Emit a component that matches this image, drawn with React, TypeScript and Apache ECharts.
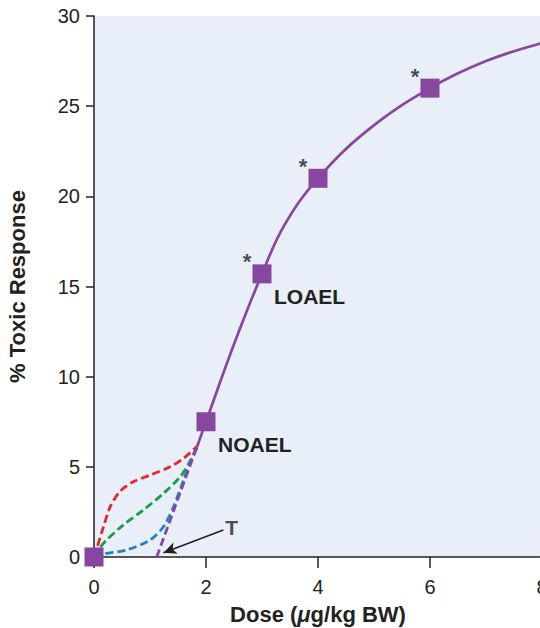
import React, { useEffect, useRef } from "react";
import * as echarts from "echarts";

// Main dose-response curve (solid)
const mainCurve: [number, number][] = [
  [1.85, 6.2], [2, 7.5], [2.5, 11.8], [3, 15.7], [3.4, 18.4], [4, 21],
  [4.9, 23.7], [6, 26], [7, 27.5], [8, 28.5],
];
// Observed dose points (squares)
const doses = [0, 2, 3, 4, 6];
const responses = [0, 7.5, 15.7, 21, 26];
const pointLabels = ["", "NOAEL", "LOAEL", "", ""];
const stars = ["", "", "*", "*", "*"];

// Hypothetical low-dose extrapolations (dashed)
const redCurve: [number, number][] = [
  [0, 0], [0.05, 0.48], [0.17, 1.68], [0.29, 2.79], [0.46, 3.62], [0.7, 4.17],
  [1.0, 4.54], [1.36, 5.0], [1.6, 5.47], [1.86, 6.2],
];
const greenCurve: [number, number][] = [
  [0, 0], [0.17, 0.76], [0.52, 1.77], [0.88, 2.6], [1.24, 3.53], [1.54, 4.45], [1.71, 5.28], [1.86, 6.2],
];
const blueCurve: [number, number][] = [
  [0, 0], [0.17, 0.17], [0.58, 0.39], [1.0, 0.94], [1.24, 1.68], [1.42, 2.79], [1.6, 4.27], [1.74, 5.47], [1.86, 6.2],
];
const thresholdLine: [number, number][] = [[1.12, 0], [1.86, 6.3]];

// Threshold annotation
const tLabel: [number, number] = [2.46, 1.66];
const tArrowStart: [number, number] = [2.31, 1.5];
const tArrowEnd: [number, number] = [1.24, 0.24];

const xTicks = { min: 0, max: 8, interval: 2 };
const yTicks = { min: 0, max: 30, interval: 5 };

const PURPLE = "#8746a0";
const FONT = "Liberation Sans, Arial, Helvetica, sans-serif";

export default function App() {
  const ref = useRef<HTMLDivElement>(null);
  useEffect(() => {
    if (!ref.current) return;
    const chart = echarts.init(ref.current, null, { renderer: "svg" });
    const dashed = (data: [number, number][], color: string) => ({
      type: "line",
      data,
      smooth: 0.3,
      showSymbol: false,
      symbol: "none",
      lineStyle: { color, width: 2.8, type: [8, 4] },
      z: 3,
    });
    const textLabel = (formatter: string, offset: number[], align: string, size: number) => ({
      show: formatter !== "",
      formatter,
      position: "inside",
      align,
      verticalAlign: "middle",
      offset,
      fontSize: size,
      fontWeight: "bold",
      color: "#222",
      fontFamily: FONT,
    });
    chart.setOption({
      animation: false,
      textStyle: { fontFamily: FONT },
      grid: {
        left: 94,
        right: -2,
        top: 16,
        bottom: 71,
        outerBoundsMode: "none",
        containLabel: false,
        show: true,
        backgroundColor: "#e8eff8",
        borderWidth: 0,
      },
      xAxis: {
        type: "value",
        ...xTicks,
        name: "Dose ({i|μ}g/kg BW)",
        nameLocation: "middle",
        nameGap: 46,
        nameTextStyle: {
          fontSize: 22,
          fontWeight: "bold",
          color: "#222",
          fontFamily: FONT,
          rich: { i: { fontSize: 22, fontWeight: "bold", fontStyle: "italic", color: "#222", fontFamily: FONT } },
        },
        axisLine: { onZero: false, lineStyle: { color: "#222", width: 1.5 } },
        axisTick: { show: true, length: 11, lineStyle: { color: "#222", width: 1.5 } },
        axisLabel: { fontSize: 20, color: "#222", margin: 20, fontFamily: FONT, hideOverlap: false },
        splitLine: { show: false },
      },
      yAxis: {
        type: "value",
        ...yTicks,
        name: "% Toxic Response",
        nameLocation: "middle",
        nameGap: 66,
        nameTextStyle: { fontSize: 22, fontWeight: "bold", color: "#222", fontFamily: FONT },
        axisLine: { show: true, onZero: false, lineStyle: { color: "#222", width: 1.5 } },
        axisTick: { show: true, length: 8, lineStyle: { color: "#222", width: 1.5 } },
        axisLabel: { fontSize: 20, color: "#222", margin: 14, fontFamily: FONT },
        splitLine: { show: false },
      },
      series: [
        dashed(redCurve, "#e8262b"),
        dashed(greenCurve, "#1a9d4a"),
        dashed(blueCurve, "#1b84c9"),
        {
          type: "line",
          data: thresholdLine,
          showSymbol: false,
          symbol: "none",
          lineStyle: { color: PURPLE, width: 2.8, type: [8, 4] },
          z: 3,
        },
        {
          type: "line",
          data: mainCurve,
          smooth: 0.4,
          showSymbol: false,
          symbol: "none",
          lineStyle: { color: PURPLE, width: 2.7 },
          z: 4,
        },
        {
          type: "scatter",
          clip: false,
          symbol: "rect",
          symbolSize: 19,
          itemStyle: { color: PURPLE, opacity: 1 },
          data: doses.map((d, i) => ({
            value: [d, responses[i]],
            label: textLabel(pointLabels[i], [12, 23], "left", 21),
          })),
          z: 5,
        },
        {
          type: "scatter",
          clip: false,
          symbol: "circle",
          symbolSize: 2,
          itemStyle: { color: "rgba(0,0,0,0)" },
          silent: true,
          data: doses.map((d, i) => ({
            value: [d, responses[i]],
            label: textLabel(stars[i], [-15, -12], "center", 22),
          })),
          z: 6,
        },
        {
          type: "scatter",
          symbol: "circle",
          symbolSize: 2,
          itemStyle: { color: "rgba(0,0,0,0)" },
          silent: true,
          data: [{ value: tLabel, label: textLabel("T", [0, 0], "center", 21) }],
          markLine: {
            silent: true,
            symbol: ["none", "arrow"],
            symbolSize: [9, 13],
            label: { show: false },
            lineStyle: { color: "#222", width: 1.6, type: "solid" },
            data: [[{ coord: tArrowStart }, { coord: tArrowEnd }]],
          },
          z: 6,
        },
      ],
    });
    return () => chart.dispose();
  }, []);
  return (
    <div style={{ position: "fixed", left: 0, top: 0, width: 540, height: 628, overflow: "hidden", background: "#fff" }}>
      <div ref={ref} style={{ width: 540, height: 628 }} />
    </div>
  );
}
